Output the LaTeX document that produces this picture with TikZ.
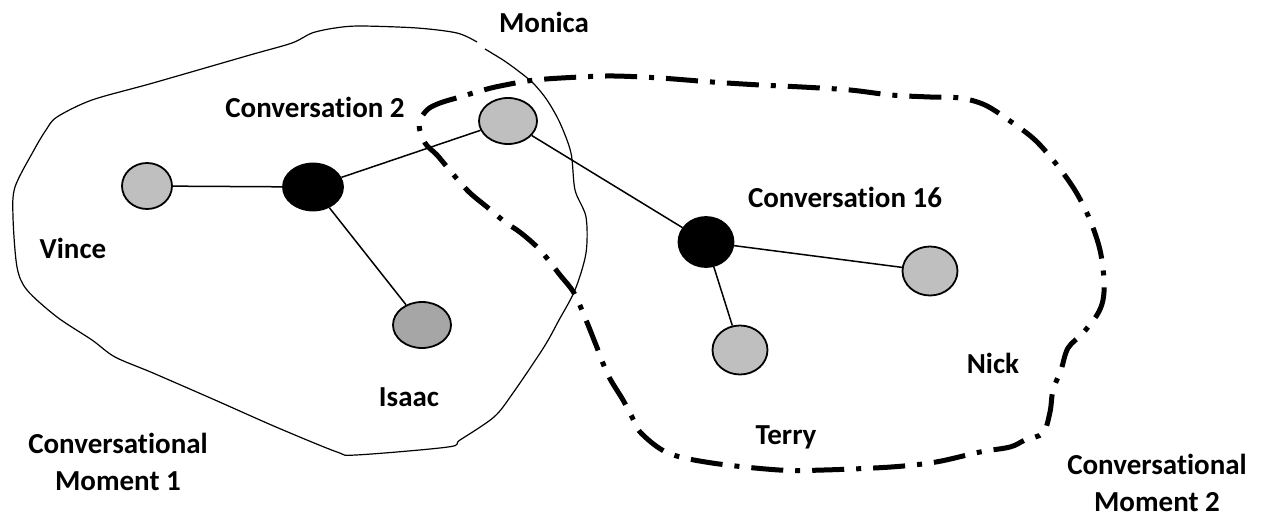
\documentclass[tikz,border=0pt]{standalone}
\usepackage{fontspec}
\setmainfont{Carlito}[Ligatures=NoCommon]
\usetikzlibrary{shapes.geometric}
\definecolor{lightnode}{HTML}{BFBFBF}
\definecolor{darknode}{HTML}{A6A6A6}
\begin{document}
\begin{tikzpicture}[x=1pt,y=-1pt,
  lbl/.style={font=\fontsize{29}{37}\selectfont\bfseries, align=center, inner sep=0pt},
  person/.style={ellipse, draw=black, line width=1.8pt, fill=lightnode, inner sep=0pt},
  darkperson/.style={person, fill=darknode},
  talk/.style={ellipse, draw=black, line width=1.8pt, fill=black, inner sep=0pt},
  link/.style={draw=black, line width=1.5pt},
  momentone/.style={draw=black, line width=1.2pt},
  momenttwo/.style={draw=black, line width=5pt, dash pattern=on 32pt off 12pt on 5pt off 12pt}]
\useasboundingbox (0,0) rectangle (1266,519);

% first conversational moment: hand-drawn thin outline
\draw[momentone] plot[smooth, tension=0.5] coordinates {
  (485,49) (503,60) (517,70) (533,83) (547,100) (560,123) (571,153) (575,190)
  (586,217) (586,253) (575,290) (559,320) (544,347) (513,393) (494,417) (460,440)
  (448,447) (356,455) (337,452) (276,427) (215,400) (153,373) (115,357) (92,340)
  (57,317) (27,290) (17,267) (13,217) (15,187) (34,150) (46,130) (57,117) (92,100)
  (153,83) (250,55) (292,43) (312,33) (335,28) (360,26) (417,28) (457,33) (477,42)};

% second conversational moment: thick dash-dot loop
\draw[momenttwo] plot[smooth cycle, tension=0.55] coordinates {
  (419,124) (427,110) (440,103) (460,97) (480,91) (500,86) (535,80) (580,77) (614,76)
  (660,78) (712,82) (760,85) (802,87) (850,90) (891,95) (930,97) (960,98)
  (985,105) (1010,121) (1035,140) (1057,165) (1076,192) (1090,220) (1100,250)
  (1104,280) (1103,300) (1097,315) (1083,333) (1068,348) (1061,370) (1053,390)
  (1050,412) (1043,433) (1025,440) (1010,447) (980,452) (936,462) (891,467) (824,470)
  (779,470) (712,463) (668,453) (641,433) (632,417) (623,400) (608,375)
  (596,345) (586,320) (574,293) (560,275) (540,250) (521,233) (505,222)
  (487,207) (469,192) (452,173) (437,155) (425,143)};

% people and conversations
\node[person, minimum width=50pt, minimum height=46pt] (vince) at (147,186) {};
\node[talk, minimum width=60pt, minimum height=47pt] (conv2) at (313,187) {};
\node[person, minimum width=58pt, minimum height=46pt] (monica) at (508,121) {};
\node[darkperson, minimum width=58pt, minimum height=46pt] (isaac) at (422,325) {};
\node[talk, minimum width=55pt, minimum height=50pt] (conv16) at (706,242) {};
\node[person, minimum width=55pt, minimum height=49pt] (nick) at (930,271) {};
\node[person, minimum width=55pt, minimum height=49pt] (terry) at (740,350) {};

\path[link] (vince) -- (conv2);
\path[link] (conv2) -- (monica);
\path[link] (conv2) -- (isaac);
\path[link] (monica) -- (conv16);
\path[link] (conv16) -- (nick);
\path[link] (conv16) -- (terry);

% labels
\node[lbl] (lmonica) at (544,22) {Monica};
\node[lbl] (lconv2) at (315,107) {Conversation 2};
\node[lbl] (lvince) at (73,248) {Vince};
\node[lbl] (lisaac) at (409,397) {Isaac};
\node[lbl] (lmoment1) at (118,462) {Conversational\\Moment 1};
\node[lbl] (lconv16) at (845,197) {Conversation 16};
\node[lbl] (lnick) at (993,363) {Nick};
\node[lbl] (lterry) at (786,437) {Terry};
\node[lbl] (lmoment2) at (1157,483) {Conversational\\Moment 2};
\end{tikzpicture}
\end{document}
